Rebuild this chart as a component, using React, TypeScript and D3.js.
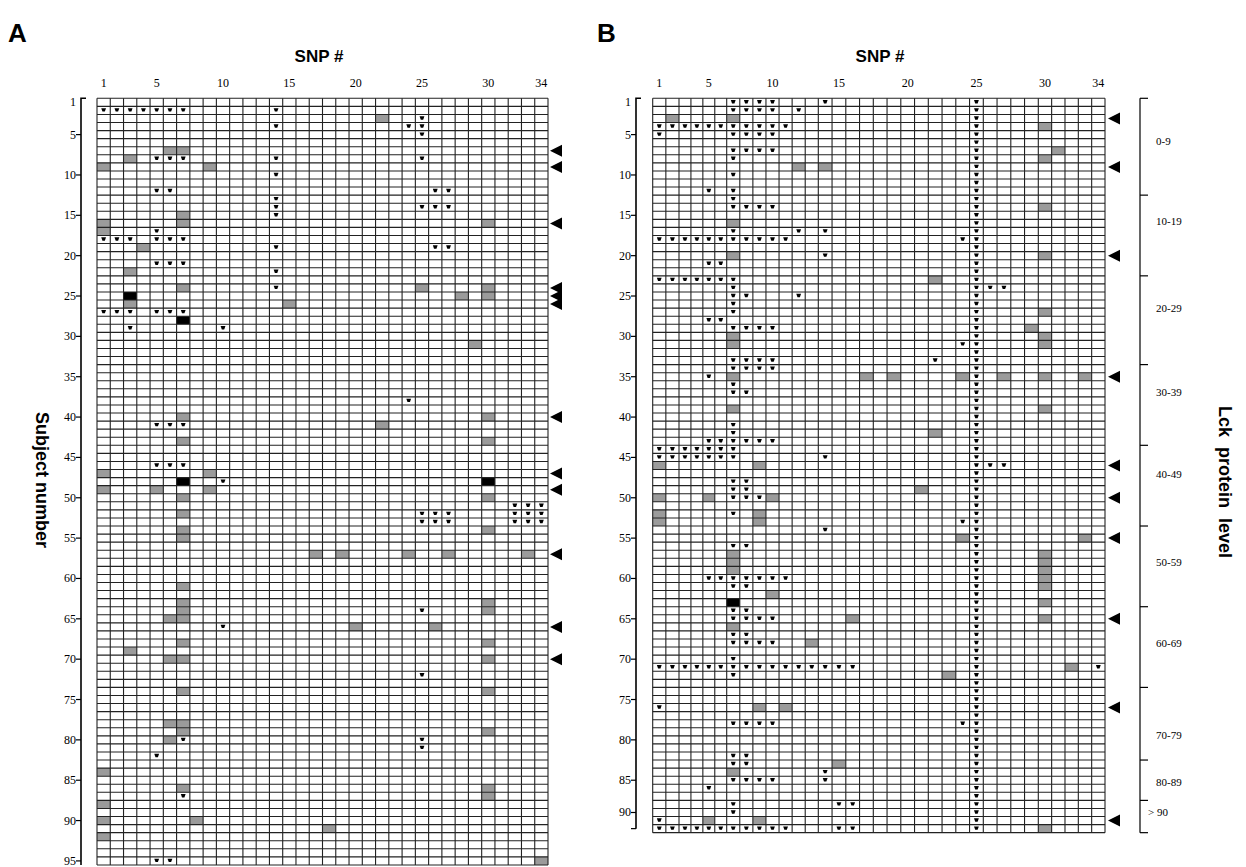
import React from "react";
import * as d3 from "d3";

// SNP columns and subject rows
const snps = d3.range(1, 35);
const subjectsA = d3.range(1, 96);
const subjectsB = d3.range(1, 92);
const snpTicks = [1, 5, 10, 15, 20, 25, 30, 34];
const subjectTicksA = [1, 5, 10, 15, 20, 25, 30, 35, 40, 45, 50, 55, 60, 65, 70, 75, 80, 85, 90, 95];
const subjectTicksB = [1, 5, 10, 15, 20, 25, 30, 35, 40, 45, 50, 55, 60, 65, 70, 75, 80, 85, 90];
// row where each B label is printed (the "90" sits a little high in the original)
const subjectTickRowsB = [1, 5, 10, 15, 20, 25, 30, 35, 40, 45, 50, 55, 60, 65, 70, 75, 80, 85, 89];

// panel A: [subject, snp]
const greyA: [number, number][] = [
  [3, 22], [7, 6], [7, 7], [8, 3], [9, 1], [9, 9], [15, 7], [16, 7], [16, 1], [16, 30], [17, 1],
  [19, 4], [22, 3], [24, 7], [24, 25], [24, 30], [25, 28], [25, 30], [26, 3], [26, 15], [31, 29],
  [40, 7], [40, 30], [41, 22], [43, 7], [43, 30], [47, 1], [47, 9], [49, 1], [49, 5], [49, 9],
  [50, 7], [50, 30], [52, 7], [54, 7], [54, 30], [55, 7], [57, 17], [57, 19], [57, 24], [57, 27],
  [57, 33], [61, 7], [63, 7], [63, 30], [64, 7], [64, 30], [65, 6], [65, 7], [66, 20], [66, 26],
  [68, 7], [68, 30], [69, 3], [70, 6], [70, 7], [70, 30], [74, 7], [74, 30], [78, 6], [78, 7],
  [79, 7], [79, 30], [80, 6], [84, 1], [86, 7], [86, 30], [87, 30], [88, 1], [90, 1], [90, 8],
  [91, 18], [92, 1], [95, 34],
];
const blackA: [number, number][] = [[25, 3], [28, 7], [48, 7], [48, 30]];
const starsA: [number, number[]][] = [
  [2, [1, 2, 3, 4, 5, 6, 7, 14]], [3, [25]], [4, [14, 24, 25]], [5, [25]], [8, [5, 6, 7, 14, 25]],
  [10, [14]], [12, [5, 6, 26, 27]], [13, [14]], [14, [14, 25, 26, 27]], [15, [14]], [17, [5]],
  [18, [1, 2, 3, 5, 6, 7]], [19, [14, 26, 27]], [21, [5, 6, 7]], [22, [14]], [24, [14]],
  [27, [1, 2, 3, 5, 6, 7]], [29, [3, 10]], [38, [24]], [41, [5, 6, 7]], [46, [5, 6, 7]], [48, [10]],
  [51, [32, 33, 34]], [52, [25, 26, 27, 32, 33, 34]], [53, [25, 26, 27, 32, 33, 34]], [64, [25]],
  [66, [10]], [72, [25]], [80, [7, 25]], [81, [25]], [82, [5]], [87, [7]], [95, [5, 6]],
];
const arrowsA = [7, 9, 16, 24, 25, 26, 40, 47, 49, 57, 66, 70];

// panel B: [subject, snp]
const greyB: [number, number][] = [
  [3, 2], [3, 7], [4, 30], [7, 31], [8, 30], [9, 12], [9, 14], [14, 30], [16, 7], [20, 7], [20, 30],
  [23, 22], [27, 30], [29, 29], [30, 7], [30, 30], [31, 7], [31, 30], [35, 7], [35, 17], [35, 19],
  [35, 24], [35, 27], [35, 30], [35, 33], [39, 7], [39, 30], [42, 22], [46, 1], [46, 9], [49, 21],
  [50, 1], [50, 5], [50, 10], [52, 1], [52, 9], [53, 1], [53, 9], [55, 24], [55, 33], [57, 7],
  [57, 30], [58, 7], [58, 30], [59, 7], [59, 30], [60, 30], [61, 30], [62, 10], [63, 30], [65, 16],
  [65, 30], [66, 7], [68, 13], [71, 32], [72, 23], [76, 9], [76, 11], [83, 15], [84, 7], [90, 5],
  [90, 9], [91, 30],
];
const blackB: [number, number][] = [[63, 7]];
const snpAllSubjectsB = 25; // starred for every subject in B
const starsB: [number, number[]][] = [
  [1, [7, 8, 9, 10, 14]], [2, [7, 8, 9, 10, 12]], [4, [1, 2, 3, 4, 5, 6, 7, 8, 9, 10, 11]],
  [5, [1, 7, 8, 9, 10]], [7, [7, 8, 9, 10]], [8, [7]], [10, [7]], [12, [5, 7]], [13, [7]],
  [14, [7, 8, 9, 10]], [17, [7, 12, 14]], [18, [1, 2, 3, 4, 5, 6, 7, 8, 9, 10, 11, 24]], [20, [14]],
  [21, [5, 6]], [23, [1, 2, 3, 4, 5, 6, 7]], [24, [7, 26, 27]], [25, [7, 8, 12]], [26, [7]],
  [27, [7]], [28, [5, 6]], [29, [7, 8, 9, 10]], [31, [24]], [33, [7, 8, 9, 10, 22]],
  [34, [7, 8, 9, 10]], [35, [5]], [36, [7]], [37, [7, 8]], [41, [7]], [42, [7]],
  [43, [5, 6, 7, 8, 9, 10]], [44, [1, 2, 3, 4, 5, 6, 7]], [45, [1, 2, 3, 4, 5, 6, 7, 14]],
  [46, [26, 27]], [48, [7, 8]], [49, [7, 8]], [50, [7, 8, 9]], [52, [7]], [53, [24]], [54, [14]],
  [56, [7, 8]], [60, [5, 6, 7, 8, 9, 10, 11]], [61, [7, 8]], [64, [7, 8]], [65, [7, 8, 9, 10]],
  [67, [7, 8]], [68, [7, 8, 9, 10]], [70, [7]],
  [71, [1, 2, 3, 4, 5, 6, 7, 8, 9, 10, 11, 12, 13, 14, 15, 16, 34]], [72, [7]], [76, [1]],
  [78, [7, 8, 9, 10, 24]], [82, [7, 8]], [83, [7, 8]], [84, [14]], [85, [7, 8, 9, 10, 14]],
  [86, [5]], [88, [7, 15, 16]], [89, [7]], [90, [1]],
  [91, [1, 2, 3, 4, 5, 6, 7, 8, 9, 10, 11, 15, 16]],
];
const arrowsB = [3, 9, 20, 35, 46, 50, 55, 65, 76, 90];

// Lck protein level groups (row boundaries in panel B) and label rows
const lckBounds = [0, 12, 22, 33, 43, 53, 63, 73, 82, 87, 91];
const lckLabels = ["0-9", "10-19", "20-29", "30-39", "40-49", "50-59", "60-69", "70-79", "80-89", "> 90"];
const lckLabelRows = [5.3, 15.2, 26, 36.4, 46.6, 57.5, 67.5, 78.9, 84.7, 88.4];

const TOP = 98.3;
const ROW_H = 8.07;
const serif = "'Liberation Serif', 'Times New Roman', serif";
const sans = "'Liberation Sans', Arial, sans-serif";

// column edge scales (panel B's printed grid is slightly uneven)
const xEdgeA = d3.scaleLinear().domain([0, 34]).range([97, 548]);
const xEdgeB = d3.scaleLinear().domain([0, 2, 6, 13, 29, 34]).range([652.7, 679, 726.7, 818.3, 1038.3, 1105]);

function Panel({ xe, rows, ticks, tickRows, grey, black, stars, allCol, arrows, axisX, arrowX, endTick }: any) {
  const y = d3.scaleBand<number>().domain(rows).range([TOP, TOP + rows.length * ROW_H]);
  const bh = y.bandwidth();
  const bottom = TOP + rows.length * ROW_H;
  const x0 = xe(0);
  const x1 = xe(34);
  const cx = (c: number) => (xe(c - 1) + xe(c)) / 2;
  const cw = (c: number) => xe(c) - xe(c - 1);
  const starList: [number, number][] = [];
  stars.forEach(([r, cs]: [number, number[]]) => cs.forEach((c) => starList.push([r, c])));
  if (allCol) rows.forEach((r: number) => starList.push([r, allCol]));
  const star = "M-2.4,-1.6h4.8l-1.2,3.4h-2.4z";
  const axisBottom = endTick ? (y(rows[rows.length - 1]) as number) + bh / 2 : bottom;

  return (
    <g>
      {grey.map(([r, c]: [number, number], i: number) => (
        <rect key={"g" + i} x={xe(c - 1)} y={y(r)} width={cw(c)} height={bh} fill="#9b9b9b" />
      ))}
      {black.map(([r, c]: [number, number], i: number) => (
        <rect key={"b" + i} x={xe(c - 1)} y={y(r)} width={cw(c)} height={bh} fill="#000" />
      ))}
      {d3.range(0, snps.length + 1).map((i) => (
        <line key={"v" + i} x1={xe(i)} x2={xe(i)} y1={TOP} y2={bottom} stroke="#222" strokeWidth={1.1} />
      ))}
      {d3.range(0, rows.length + 1).map((j) => (
        <line key={"h" + j} x1={x0} x2={x1} y1={TOP + j * bh} y2={TOP + j * bh} stroke="#222" strokeWidth={1.1} />
      ))}
      {starList.map(([r, c], i) => (
        <path key={"s" + i} d={star} transform={`translate(${cx(c)},${(y(r) as number) + 3.4})`} fill="#000" />
      ))}
      {arrows.map((r: number, i: number) => {
        const cy = (y(r) as number) + bh / 2;
        return <path key={"a" + i} d={`M${arrowX},${cy} L${arrowX + 12},${cy - 6} L${arrowX + 12},${cy + 6} Z`} fill="#000" />;
      })}
      {snpTicks.map((t) => (
        <text key={"ct" + t} x={cx(t)} y={87} textAnchor="middle" fontFamily={serif} fontSize={12}>
          {t}
        </text>
      ))}
      <path d={`M${axisX + 5},${TOP} H${axisX} V${axisBottom}`} fill="none" stroke="#000" strokeWidth={1.6} />
      {endTick && <line x1={axisX - 5} x2={axisX} y1={axisBottom} y2={axisBottom} stroke="#000" strokeWidth={1.2} />}
      {ticks.map((t: number, i: number) => {
        const cy = (y(tickRows ? tickRows[i] : t) as number) + bh / 2;
        return (
          <g key={"rt" + t}>
            {t !== 1 && <line x1={axisX - 5} x2={axisX} y1={cy} y2={cy} stroke="#000" strokeWidth={1.2} />}
            <text x={axisX - 5} y={cy + 4} textAnchor="end" fontFamily={serif} fontSize={12}>
              {t}
            </text>
          </g>
        );
      })}
    </g>
  );
}

export default function App() {
  const yB = d3.scaleLinear().domain([0, 91]).range([TOP, TOP + 91 * ROW_H]);
  const lckX = 1140;
  return (
    <svg width={1246} height={867} style={{ position: "absolute", left: 0, top: 0, background: "#fff" }}>
      <text x={8} y={42} fontFamily={sans} fontWeight="bold" fontSize={26}>A</text>
      <text x={597} y={42} fontFamily={sans} fontWeight="bold" fontSize={26}>B</text>
      <text x={319} y={62} textAnchor="middle" fontFamily={sans} fontWeight="bold" fontSize={17}>SNP #</text>
      <text x={880} y={62} textAnchor="middle" fontFamily={sans} fontWeight="bold" fontSize={17}>SNP #</text>
      <text transform="translate(36,480) rotate(90)" textAnchor="middle" fontFamily={sans} fontWeight="bold" fontSize={18}>
        Subject number
      </text>
      <text transform="translate(1219,482) rotate(90)" textAnchor="middle" fontFamily={sans} fontWeight="bold" fontSize={18} style={{ whiteSpace: "pre" }}>
        {"Lck  protein  level"}
      </text>

      <Panel xe={xEdgeA} rows={subjectsA} ticks={subjectTicksA} grey={greyA} black={blackA} stars={starsA} allCol={null} arrows={arrowsA} axisX={81} arrowX={550} />
      <Panel xe={xEdgeB} rows={subjectsB} ticks={subjectTicksB} tickRows={subjectTickRowsB} grey={greyB} black={blackB} stars={starsB} allCol={snpAllSubjectsB} arrows={arrowsB} axisX={636} arrowX={1108} endTick />

      <line x1={lckX} x2={lckX} y1={yB(0)} y2={yB(91)} stroke="#000" strokeWidth={1.2} />
      {lckBounds.map((b, i) => (
        <line key={"lb" + i} x1={lckX} x2={lckX + 8} y1={yB(b)} y2={yB(b)} stroke="#000" strokeWidth={1.2} />
      ))}
      {lckLabels.map((l, i) => (
        <text key={"ll" + i} x={lckX + (l.startsWith(">") ? 8 : 16)} y={yB(lckLabelRows[i]) + 4} fontFamily={serif} fontSize={11}>
          {l}
        </text>
      ))}
    </svg>
  );
}
